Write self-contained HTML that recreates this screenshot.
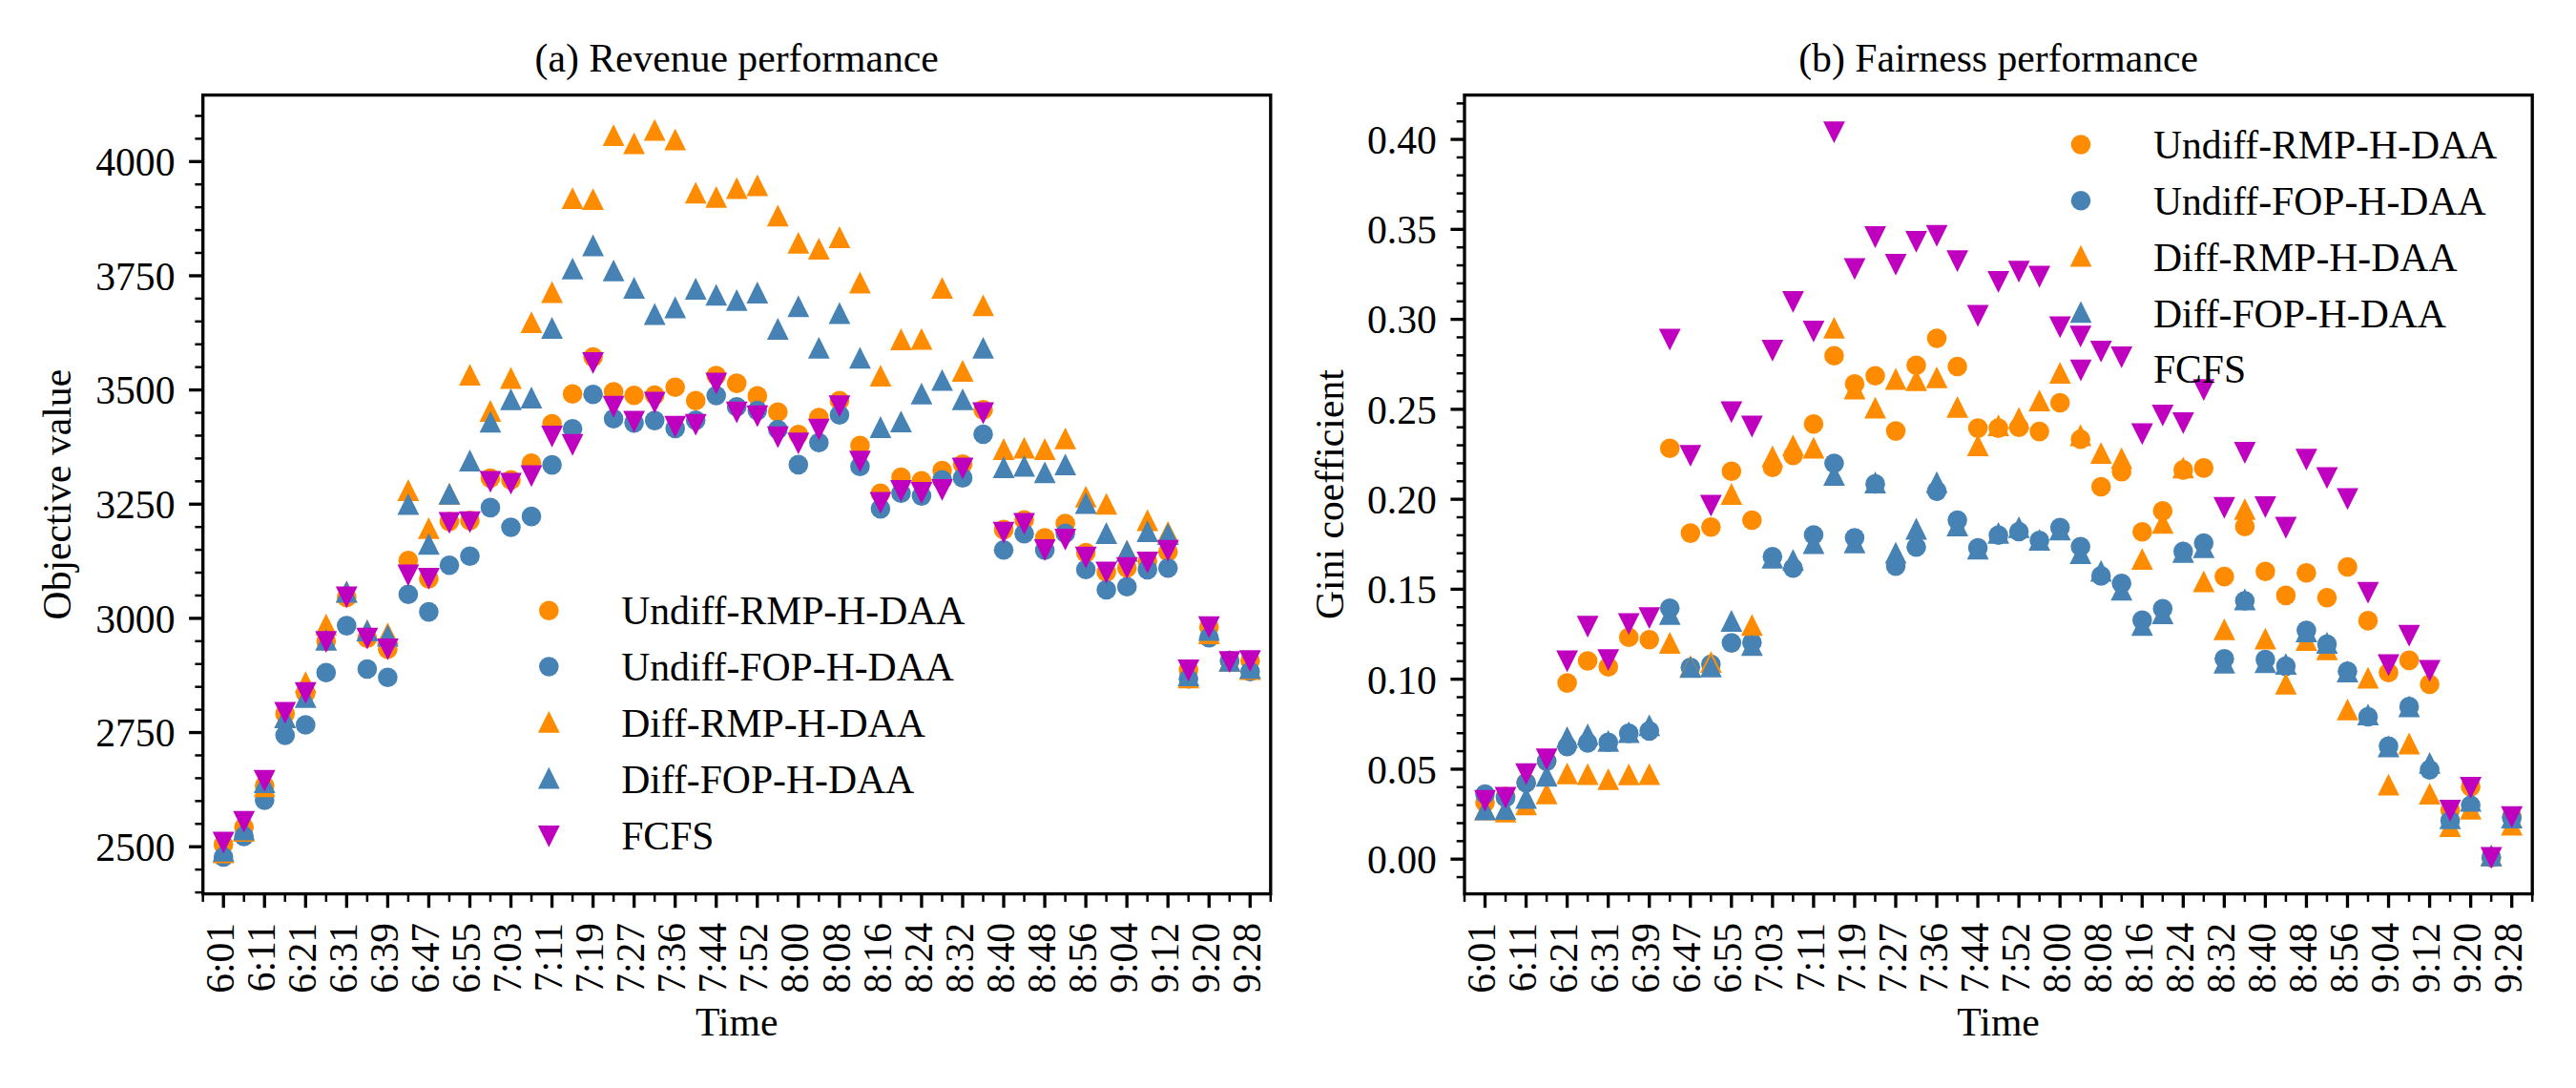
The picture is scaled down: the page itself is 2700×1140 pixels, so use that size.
<!DOCTYPE html>
<html><head><meta charset="utf-8"><title>Revenue and fairness performance</title>
<style>
html,body{margin:0;padding:0;background:#fff;}
svg{display:block}
text{font-family:"Liberation Serif","Times New Roman",serif;font-size:41.67px;fill:#000}
</style></head>
<body>
<svg width="2700" height="1140" viewBox="0 0 2700 1140">
<rect width="2700" height="1140" fill="#fff"/>
<g><circle cx="234.2" cy="884.9" r="10.3" fill="#ff8c00"/><circle cx="255.7" cy="866.8" r="10.3" fill="#ff8c00"/><circle cx="277.3" cy="823.2" r="10.3" fill="#ff8c00"/><circle cx="298.8" cy="747.9" r="10.3" fill="#ff8c00"/><circle cx="320.3" cy="726.5" r="10.3" fill="#ff8c00"/><circle cx="341.8" cy="672.0" r="10.3" fill="#ff8c00"/><circle cx="363.3" cy="625.9" r="10.3" fill="#ff8c00"/><circle cx="384.9" cy="668.8" r="10.3" fill="#ff8c00"/><circle cx="406.4" cy="680.3" r="10.3" fill="#ff8c00"/><circle cx="427.9" cy="587.3" r="10.3" fill="#ff8c00"/><circle cx="449.4" cy="606.4" r="10.3" fill="#ff8c00"/><circle cx="471.0" cy="546.5" r="10.3" fill="#ff8c00"/><circle cx="492.5" cy="545.4" r="10.3" fill="#ff8c00"/><circle cx="514.0" cy="501.0" r="10.3" fill="#ff8c00"/><circle cx="535.5" cy="502.9" r="10.3" fill="#ff8c00"/><circle cx="557.0" cy="485.3" r="10.3" fill="#ff8c00"/><circle cx="578.6" cy="444.1" r="10.3" fill="#ff8c00"/><circle cx="600.1" cy="412.7" r="10.3" fill="#ff8c00"/><circle cx="621.6" cy="374.1" r="10.3" fill="#ff8c00"/><circle cx="643.1" cy="410.5" r="10.3" fill="#ff8c00"/><circle cx="664.6" cy="414.2" r="10.3" fill="#ff8c00"/><circle cx="686.2" cy="414.0" r="10.3" fill="#ff8c00"/><circle cx="707.7" cy="405.8" r="10.3" fill="#ff8c00"/><circle cx="729.2" cy="419.8" r="10.3" fill="#ff8c00"/><circle cx="750.7" cy="393.5" r="10.3" fill="#ff8c00"/><circle cx="772.2" cy="401.6" r="10.3" fill="#ff8c00"/><circle cx="793.8" cy="414.9" r="10.3" fill="#ff8c00"/><circle cx="815.3" cy="431.7" r="10.3" fill="#ff8c00"/><circle cx="836.8" cy="455.2" r="10.3" fill="#ff8c00"/><circle cx="858.3" cy="437.5" r="10.3" fill="#ff8c00"/><circle cx="879.9" cy="419.7" r="10.3" fill="#ff8c00"/><circle cx="901.4" cy="466.8" r="10.3" fill="#ff8c00"/><circle cx="922.9" cy="516.7" r="10.3" fill="#ff8c00"/><circle cx="944.4" cy="500.0" r="10.3" fill="#ff8c00"/><circle cx="965.9" cy="503.8" r="10.3" fill="#ff8c00"/><circle cx="987.5" cy="493.0" r="10.3" fill="#ff8c00"/><circle cx="1009.0" cy="486.4" r="10.3" fill="#ff8c00"/><circle cx="1030.5" cy="429.4" r="10.3" fill="#ff8c00"/><circle cx="1052.0" cy="554.9" r="10.3" fill="#ff8c00"/><circle cx="1073.5" cy="544.7" r="10.3" fill="#ff8c00"/><circle cx="1095.1" cy="563.6" r="10.3" fill="#ff8c00"/><circle cx="1116.6" cy="548.5" r="10.3" fill="#ff8c00"/><circle cx="1138.1" cy="579.1" r="10.3" fill="#ff8c00"/><circle cx="1159.6" cy="599.5" r="10.3" fill="#ff8c00"/><circle cx="1181.2" cy="595.0" r="10.3" fill="#ff8c00"/><circle cx="1202.7" cy="588.0" r="10.3" fill="#ff8c00"/><circle cx="1224.2" cy="578.3" r="10.3" fill="#ff8c00"/><circle cx="1245.7" cy="701.7" r="10.3" fill="#ff8c00"/><circle cx="1267.2" cy="657.0" r="10.3" fill="#ff8c00"/><circle cx="1288.8" cy="692.4" r="10.3" fill="#ff8c00"/><circle cx="1310.3" cy="692.4" r="10.3" fill="#ff8c00"/></g>
<g><circle cx="234.2" cy="898.0" r="10.3" fill="#4682b4"/><circle cx="255.7" cy="876.4" r="10.3" fill="#4682b4"/><circle cx="277.3" cy="838.4" r="10.3" fill="#4682b4"/><circle cx="298.8" cy="770.5" r="10.3" fill="#4682b4"/><circle cx="320.3" cy="759.5" r="10.3" fill="#4682b4"/><circle cx="341.8" cy="704.8" r="10.3" fill="#4682b4"/><circle cx="363.3" cy="655.6" r="10.3" fill="#4682b4"/><circle cx="384.9" cy="701.0" r="10.3" fill="#4682b4"/><circle cx="406.4" cy="709.7" r="10.3" fill="#4682b4"/><circle cx="427.9" cy="622.8" r="10.3" fill="#4682b4"/><circle cx="449.4" cy="641.1" r="10.3" fill="#4682b4"/><circle cx="471.0" cy="592.3" r="10.3" fill="#4682b4"/><circle cx="492.5" cy="582.8" r="10.3" fill="#4682b4"/><circle cx="514.0" cy="531.9" r="10.3" fill="#4682b4"/><circle cx="535.5" cy="552.5" r="10.3" fill="#4682b4"/><circle cx="557.0" cy="541.1" r="10.3" fill="#4682b4"/><circle cx="578.6" cy="487.1" r="10.3" fill="#4682b4"/><circle cx="600.1" cy="449.3" r="10.3" fill="#4682b4"/><circle cx="621.6" cy="413.2" r="10.3" fill="#4682b4"/><circle cx="643.1" cy="438.8" r="10.3" fill="#4682b4"/><circle cx="664.6" cy="443.1" r="10.3" fill="#4682b4"/><circle cx="686.2" cy="440.6" r="10.3" fill="#4682b4"/><circle cx="707.7" cy="448.9" r="10.3" fill="#4682b4"/><circle cx="729.2" cy="440.4" r="10.3" fill="#4682b4"/><circle cx="750.7" cy="414.5" r="10.3" fill="#4682b4"/><circle cx="772.2" cy="426.3" r="10.3" fill="#4682b4"/><circle cx="793.8" cy="430.1" r="10.3" fill="#4682b4"/><circle cx="815.3" cy="450.0" r="10.3" fill="#4682b4"/><circle cx="836.8" cy="486.9" r="10.3" fill="#4682b4"/><circle cx="858.3" cy="463.7" r="10.3" fill="#4682b4"/><circle cx="879.9" cy="434.8" r="10.3" fill="#4682b4"/><circle cx="901.4" cy="488.8" r="10.3" fill="#4682b4"/><circle cx="922.9" cy="533.1" r="10.3" fill="#4682b4"/><circle cx="944.4" cy="516.7" r="10.3" fill="#4682b4"/><circle cx="965.9" cy="519.6" r="10.3" fill="#4682b4"/><circle cx="987.5" cy="502.8" r="10.3" fill="#4682b4"/><circle cx="1009.0" cy="500.7" r="10.3" fill="#4682b4"/><circle cx="1030.5" cy="455.0" r="10.3" fill="#4682b4"/><circle cx="1052.0" cy="576.3" r="10.3" fill="#4682b4"/><circle cx="1073.5" cy="559.2" r="10.3" fill="#4682b4"/><circle cx="1095.1" cy="576.5" r="10.3" fill="#4682b4"/><circle cx="1116.6" cy="558.8" r="10.3" fill="#4682b4"/><circle cx="1138.1" cy="596.7" r="10.3" fill="#4682b4"/><circle cx="1159.6" cy="618.0" r="10.3" fill="#4682b4"/><circle cx="1181.2" cy="614.8" r="10.3" fill="#4682b4"/><circle cx="1202.7" cy="596.9" r="10.3" fill="#4682b4"/><circle cx="1224.2" cy="595.2" r="10.3" fill="#4682b4"/><circle cx="1245.7" cy="711.2" r="10.3" fill="#4682b4"/><circle cx="1267.2" cy="668.3" r="10.3" fill="#4682b4"/><circle cx="1288.8" cy="692.4" r="10.3" fill="#4682b4"/><circle cx="1310.3" cy="703.8" r="10.3" fill="#4682b4"/></g>
<g><polygon points="234.2,881.6 222.8,904.4 245.6,904.4" fill="#ff8c00"/><polygon points="255.7,859.2 244.3,882.0 267.1,882.0" fill="#ff8c00"/><polygon points="277.3,812.4 265.9,835.2 288.7,835.2" fill="#ff8c00"/><polygon points="298.8,740.3 287.4,763.1 310.2,763.1" fill="#ff8c00"/><polygon points="320.3,703.3 308.9,726.1 331.7,726.1" fill="#ff8c00"/><polygon points="341.8,643.0 330.4,665.8 353.2,665.8" fill="#ff8c00"/><polygon points="363.3,608.6 351.9,631.4 374.7,631.4" fill="#ff8c00"/><polygon points="384.9,648.9 373.5,671.7 396.3,671.7" fill="#ff8c00"/><polygon points="406.4,652.3 395.0,675.1 417.8,675.1" fill="#ff8c00"/><polygon points="427.9,502.1 416.5,524.9 439.3,524.9" fill="#ff8c00"/><polygon points="449.4,541.9 438.0,564.7 460.8,564.7" fill="#ff8c00"/><polygon points="471.0,506.0 459.6,528.8 482.4,528.8" fill="#ff8c00"/><polygon points="492.5,381.3 481.1,404.1 503.9,404.1" fill="#ff8c00"/><polygon points="514.0,419.1 502.6,441.9 525.4,441.9" fill="#ff8c00"/><polygon points="535.5,384.6 524.1,407.4 546.9,407.4" fill="#ff8c00"/><polygon points="557.0,326.2 545.6,349.0 568.4,349.0" fill="#ff8c00"/><polygon points="578.6,294.6 567.2,317.4 590.0,317.4" fill="#ff8c00"/><polygon points="600.1,196.2 588.7,219.0 611.5,219.0" fill="#ff8c00"/><polygon points="621.6,197.2 610.2,220.0 633.0,220.0" fill="#ff8c00"/><polygon points="643.1,130.2 631.7,153.0 654.5,153.0" fill="#ff8c00"/><polygon points="664.6,138.7 653.2,161.5 676.0,161.5" fill="#ff8c00"/><polygon points="686.2,124.8 674.8,147.6 697.6,147.6" fill="#ff8c00"/><polygon points="707.7,134.7 696.3,157.5 719.1,157.5" fill="#ff8c00"/><polygon points="729.2,190.4 717.8,213.2 740.6,213.2" fill="#ff8c00"/><polygon points="750.7,195.0 739.3,217.8 762.1,217.8" fill="#ff8c00"/><polygon points="772.2,185.7 760.9,208.5 783.6,208.5" fill="#ff8c00"/><polygon points="793.8,182.8 782.4,205.6 805.2,205.6" fill="#ff8c00"/><polygon points="815.3,214.4 803.9,237.2 826.7,237.2" fill="#ff8c00"/><polygon points="836.8,243.0 825.4,265.8 848.2,265.8" fill="#ff8c00"/><polygon points="858.3,249.2 846.9,272.0 869.7,272.0" fill="#ff8c00"/><polygon points="879.9,237.1 868.5,259.9 891.3,259.9" fill="#ff8c00"/><polygon points="901.4,284.6 890.0,307.4 912.8,307.4" fill="#ff8c00"/><polygon points="922.9,382.3 911.5,405.1 934.3,405.1" fill="#ff8c00"/><polygon points="944.4,344.1 933.0,366.9 955.8,366.9" fill="#ff8c00"/><polygon points="965.9,343.8 954.5,366.6 977.3,366.6" fill="#ff8c00"/><polygon points="987.5,290.2 976.1,313.0 998.9,313.0" fill="#ff8c00"/><polygon points="1009.0,377.1 997.6,399.9 1020.4,399.9" fill="#ff8c00"/><polygon points="1030.5,308.5 1019.1,331.3 1041.9,331.3" fill="#ff8c00"/><polygon points="1052.0,459.1 1040.6,481.9 1063.4,481.9" fill="#ff8c00"/><polygon points="1073.5,457.7 1062.1,480.5 1084.9,480.5" fill="#ff8c00"/><polygon points="1095.1,459.1 1083.7,481.9 1106.5,481.9" fill="#ff8c00"/><polygon points="1116.6,447.9 1105.2,470.7 1128.0,470.7" fill="#ff8c00"/><polygon points="1138.1,509.0 1126.7,531.8 1149.5,531.8" fill="#ff8c00"/><polygon points="1159.6,516.4 1148.2,539.2 1171.0,539.2" fill="#ff8c00"/><polygon points="1181.2,565.8 1169.8,588.6 1192.6,588.6" fill="#ff8c00"/><polygon points="1202.7,533.6 1191.3,556.4 1214.1,556.4" fill="#ff8c00"/><polygon points="1224.2,546.0 1212.8,568.8 1235.6,568.8" fill="#ff8c00"/><polygon points="1245.7,698.5 1234.3,721.3 1257.1,721.3" fill="#ff8c00"/><polygon points="1267.2,652.1 1255.8,674.9 1278.6,674.9" fill="#ff8c00"/><polygon points="1288.8,680.9 1277.4,703.7 1300.2,703.7" fill="#ff8c00"/><polygon points="1310.3,689.8 1298.9,712.6 1321.7,712.6" fill="#ff8c00"/></g>
<g><polygon points="234.2,879.9 222.8,902.7 245.6,902.7" fill="#4682b4"/><polygon points="255.7,857.6 244.3,880.4 267.1,880.4" fill="#4682b4"/><polygon points="277.3,808.2 265.9,831.0 288.7,831.0" fill="#4682b4"/><polygon points="298.8,740.3 287.4,763.1 310.2,763.1" fill="#4682b4"/><polygon points="320.3,719.0 308.9,741.8 331.7,741.8" fill="#4682b4"/><polygon points="341.8,658.9 330.4,681.7 353.2,681.7" fill="#4682b4"/><polygon points="363.3,608.6 351.9,631.4 374.7,631.4" fill="#4682b4"/><polygon points="384.9,649.2 373.5,672.0 396.3,672.0" fill="#4682b4"/><polygon points="406.4,654.6 395.0,677.4 417.8,677.4" fill="#4682b4"/><polygon points="427.9,516.8 416.5,539.6 439.3,539.6" fill="#4682b4"/><polygon points="449.4,558.5 438.0,581.3 460.8,581.3" fill="#4682b4"/><polygon points="471.0,506.0 459.6,528.8 482.4,528.8" fill="#4682b4"/><polygon points="492.5,471.1 481.1,493.9 503.9,493.9" fill="#4682b4"/><polygon points="514.0,430.5 502.6,453.3 525.4,453.3" fill="#4682b4"/><polygon points="535.5,407.0 524.1,429.8 546.9,429.8" fill="#4682b4"/><polygon points="557.0,405.1 545.6,427.9 568.4,427.9" fill="#4682b4"/><polygon points="578.6,332.1 567.2,354.9 590.0,354.9" fill="#4682b4"/><polygon points="600.1,269.9 588.7,292.7 611.5,292.7" fill="#4682b4"/><polygon points="621.6,245.6 610.2,268.4 633.0,268.4" fill="#4682b4"/><polygon points="643.1,271.9 631.7,294.7 654.5,294.7" fill="#4682b4"/><polygon points="664.6,290.1 653.2,312.9 676.0,312.9" fill="#4682b4"/><polygon points="686.2,317.6 674.8,340.4 697.6,340.4" fill="#4682b4"/><polygon points="707.7,310.6 696.3,333.4 719.1,333.4" fill="#4682b4"/><polygon points="729.2,291.1 717.8,313.9 740.6,313.9" fill="#4682b4"/><polygon points="750.7,297.5 739.3,320.3 762.1,320.3" fill="#4682b4"/><polygon points="772.2,302.9 760.9,325.7 783.6,325.7" fill="#4682b4"/><polygon points="793.8,295.1 782.4,317.9 805.2,317.9" fill="#4682b4"/><polygon points="815.3,333.1 803.9,355.9 826.7,355.9" fill="#4682b4"/><polygon points="836.8,309.5 825.4,332.3 848.2,332.3" fill="#4682b4"/><polygon points="858.3,353.0 846.9,375.8 869.7,375.8" fill="#4682b4"/><polygon points="879.9,316.6 868.5,339.4 891.3,339.4" fill="#4682b4"/><polygon points="901.4,363.4 890.0,386.2 912.8,386.2" fill="#4682b4"/><polygon points="922.9,436.1 911.5,458.9 934.3,458.9" fill="#4682b4"/><polygon points="944.4,430.3 933.0,453.1 955.8,453.1" fill="#4682b4"/><polygon points="965.9,400.9 954.5,423.7 977.3,423.7" fill="#4682b4"/><polygon points="987.5,386.7 976.1,409.5 998.9,409.5" fill="#4682b4"/><polygon points="1009.0,407.0 997.6,429.8 1020.4,429.8" fill="#4682b4"/><polygon points="1030.5,352.9 1019.1,375.7 1041.9,375.7" fill="#4682b4"/><polygon points="1052.0,478.1 1040.6,500.9 1063.4,500.9" fill="#4682b4"/><polygon points="1073.5,476.8 1062.1,499.6 1084.9,499.6" fill="#4682b4"/><polygon points="1095.1,483.4 1083.7,506.2 1106.5,506.2" fill="#4682b4"/><polygon points="1116.6,475.2 1105.2,498.0 1128.0,498.0" fill="#4682b4"/><polygon points="1138.1,515.8 1126.7,538.6 1149.5,538.6" fill="#4682b4"/><polygon points="1159.6,547.1 1148.2,569.9 1171.0,569.9" fill="#4682b4"/><polygon points="1181.2,565.8 1169.8,588.6 1192.6,588.6" fill="#4682b4"/><polygon points="1202.7,545.2 1191.3,568.0 1214.1,568.0" fill="#4682b4"/><polygon points="1224.2,548.1 1212.8,570.9 1235.6,570.9" fill="#4682b4"/><polygon points="1245.7,696.2 1234.3,719.0 1257.1,719.0" fill="#4682b4"/><polygon points="1267.2,648.8 1255.8,671.6 1278.6,671.6" fill="#4682b4"/><polygon points="1288.8,680.9 1277.4,703.7 1300.2,703.7" fill="#4682b4"/><polygon points="1310.3,688.4 1298.9,711.2 1321.7,711.2" fill="#4682b4"/></g>
<g><polygon points="234.2,894.2 222.8,871.4 245.6,871.4" fill="#bf00bf"/><polygon points="255.7,872.6 244.3,849.8 267.1,849.8" fill="#bf00bf"/><polygon points="277.3,829.5 265.9,806.7 288.7,806.7" fill="#bf00bf"/><polygon points="298.8,758.3 287.4,735.5 310.2,735.5" fill="#bf00bf"/><polygon points="320.3,737.5 308.9,714.7 331.7,714.7" fill="#bf00bf"/><polygon points="341.8,684.0 330.4,661.2 353.2,661.2" fill="#bf00bf"/><polygon points="363.3,637.3 351.9,614.5 374.7,614.5" fill="#bf00bf"/><polygon points="384.9,680.5 373.5,657.7 396.3,657.7" fill="#bf00bf"/><polygon points="406.4,691.7 395.0,668.9 417.8,668.9" fill="#bf00bf"/><polygon points="427.9,614.2 416.5,591.4 439.3,591.4" fill="#bf00bf"/><polygon points="449.4,617.7 438.0,594.9 460.8,594.9" fill="#bf00bf"/><polygon points="471.0,559.3 459.6,536.5 482.4,536.5" fill="#bf00bf"/><polygon points="492.5,558.5 481.1,535.7 503.9,535.7" fill="#bf00bf"/><polygon points="514.0,516.2 502.6,493.4 525.4,493.4" fill="#bf00bf"/><polygon points="535.5,518.2 524.1,495.4 546.9,495.4" fill="#bf00bf"/><polygon points="557.0,510.3 545.6,487.5 568.4,487.5" fill="#bf00bf"/><polygon points="578.6,468.8 567.2,446.0 590.0,446.0" fill="#bf00bf"/><polygon points="600.1,477.6 588.7,454.8 611.5,454.8" fill="#bf00bf"/><polygon points="621.6,391.7 610.2,368.9 633.0,368.9" fill="#bf00bf"/><polygon points="643.1,437.5 631.7,414.7 654.5,414.7" fill="#bf00bf"/><polygon points="664.6,453.3 653.2,430.5 676.0,430.5" fill="#bf00bf"/><polygon points="686.2,433.2 674.8,410.4 697.6,410.4" fill="#bf00bf"/><polygon points="707.7,458.5 696.3,435.7 719.1,435.7" fill="#bf00bf"/><polygon points="729.2,456.6 717.8,433.8 740.6,433.8" fill="#bf00bf"/><polygon points="750.7,413.2 739.3,390.4 762.1,390.4" fill="#bf00bf"/><polygon points="772.2,443.6 760.9,420.8 783.6,420.8" fill="#bf00bf"/><polygon points="793.8,447.6 782.4,424.8 805.2,424.8" fill="#bf00bf"/><polygon points="815.3,469.6 803.9,446.8 826.7,446.8" fill="#bf00bf"/><polygon points="836.8,476.1 825.4,453.3 848.2,453.3" fill="#bf00bf"/><polygon points="858.3,461.6 846.9,438.8 869.7,438.8" fill="#bf00bf"/><polygon points="879.9,437.0 868.5,414.2 891.3,414.2" fill="#bf00bf"/><polygon points="901.4,495.1 890.0,472.3 912.8,472.3" fill="#bf00bf"/><polygon points="922.9,538.2 911.5,515.4 934.3,515.4" fill="#bf00bf"/><polygon points="944.4,525.8 933.0,503.0 955.8,503.0" fill="#bf00bf"/><polygon points="965.9,527.9 954.5,505.1 977.3,505.1" fill="#bf00bf"/><polygon points="987.5,524.8 976.1,502.0 998.9,502.0" fill="#bf00bf"/><polygon points="1009.0,502.2 997.6,479.4 1020.4,479.4" fill="#bf00bf"/><polygon points="1030.5,444.4 1019.1,421.6 1041.9,421.6" fill="#bf00bf"/><polygon points="1052.0,569.6 1040.6,546.8 1063.4,546.8" fill="#bf00bf"/><polygon points="1073.5,560.2 1062.1,537.4 1084.9,537.4" fill="#bf00bf"/><polygon points="1095.1,587.7 1083.7,564.9 1106.5,564.9" fill="#bf00bf"/><polygon points="1116.6,576.8 1105.2,554.0 1128.0,554.0" fill="#bf00bf"/><polygon points="1138.1,595.6 1126.7,572.8 1149.5,572.8" fill="#bf00bf"/><polygon points="1159.6,611.4 1148.2,588.6 1171.0,588.6" fill="#bf00bf"/><polygon points="1181.2,606.5 1169.8,583.7 1192.6,583.7" fill="#bf00bf"/><polygon points="1202.7,600.8 1191.3,578.0 1214.1,578.0" fill="#bf00bf"/><polygon points="1224.2,588.5 1212.8,565.7 1235.6,565.7" fill="#bf00bf"/><polygon points="1245.7,713.9 1234.3,691.1 1257.1,691.1" fill="#bf00bf"/><polygon points="1267.2,668.5 1255.8,645.7 1278.6,645.7" fill="#bf00bf"/><polygon points="1288.8,705.0 1277.4,682.2 1300.2,682.2" fill="#bf00bf"/><polygon points="1310.3,704.0 1298.9,681.2 1321.7,681.2" fill="#bf00bf"/></g>
<g stroke="#000"><line x1="212.70" y1="936.6" x2="212.70" y2="944.9" stroke-width="2.5"/><line x1="234.22" y1="936.6" x2="234.22" y2="951.2" stroke-width="3.33"/><line x1="255.74" y1="936.6" x2="255.74" y2="944.9" stroke-width="2.5"/><line x1="277.26" y1="936.6" x2="277.26" y2="951.2" stroke-width="3.33"/><line x1="298.78" y1="936.6" x2="298.78" y2="944.9" stroke-width="2.5"/><line x1="320.31" y1="936.6" x2="320.31" y2="951.2" stroke-width="3.33"/><line x1="341.83" y1="936.6" x2="341.83" y2="944.9" stroke-width="2.5"/><line x1="363.35" y1="936.6" x2="363.35" y2="951.2" stroke-width="3.33"/><line x1="384.87" y1="936.6" x2="384.87" y2="944.9" stroke-width="2.5"/><line x1="406.39" y1="936.6" x2="406.39" y2="951.2" stroke-width="3.33"/><line x1="427.91" y1="936.6" x2="427.91" y2="944.9" stroke-width="2.5"/><line x1="449.43" y1="936.6" x2="449.43" y2="951.2" stroke-width="3.33"/><line x1="470.95" y1="936.6" x2="470.95" y2="944.9" stroke-width="2.5"/><line x1="492.47" y1="936.6" x2="492.47" y2="951.2" stroke-width="3.33"/><line x1="514.00" y1="936.6" x2="514.00" y2="944.9" stroke-width="2.5"/><line x1="535.52" y1="936.6" x2="535.52" y2="951.2" stroke-width="3.33"/><line x1="557.04" y1="936.6" x2="557.04" y2="944.9" stroke-width="2.5"/><line x1="578.56" y1="936.6" x2="578.56" y2="951.2" stroke-width="3.33"/><line x1="600.08" y1="936.6" x2="600.08" y2="944.9" stroke-width="2.5"/><line x1="621.60" y1="936.6" x2="621.60" y2="951.2" stroke-width="3.33"/><line x1="643.12" y1="936.6" x2="643.12" y2="944.9" stroke-width="2.5"/><line x1="664.64" y1="936.6" x2="664.64" y2="951.2" stroke-width="3.33"/><line x1="686.17" y1="936.6" x2="686.17" y2="944.9" stroke-width="2.5"/><line x1="707.69" y1="936.6" x2="707.69" y2="951.2" stroke-width="3.33"/><line x1="729.21" y1="936.6" x2="729.21" y2="944.9" stroke-width="2.5"/><line x1="750.73" y1="936.6" x2="750.73" y2="951.2" stroke-width="3.33"/><line x1="772.25" y1="936.6" x2="772.25" y2="944.9" stroke-width="2.5"/><line x1="793.77" y1="936.6" x2="793.77" y2="951.2" stroke-width="3.33"/><line x1="815.29" y1="936.6" x2="815.29" y2="944.9" stroke-width="2.5"/><line x1="836.81" y1="936.6" x2="836.81" y2="951.2" stroke-width="3.33"/><line x1="858.33" y1="936.6" x2="858.33" y2="944.9" stroke-width="2.5"/><line x1="879.86" y1="936.6" x2="879.86" y2="951.2" stroke-width="3.33"/><line x1="901.38" y1="936.6" x2="901.38" y2="944.9" stroke-width="2.5"/><line x1="922.90" y1="936.6" x2="922.90" y2="951.2" stroke-width="3.33"/><line x1="944.42" y1="936.6" x2="944.42" y2="944.9" stroke-width="2.5"/><line x1="965.94" y1="936.6" x2="965.94" y2="951.2" stroke-width="3.33"/><line x1="987.46" y1="936.6" x2="987.46" y2="944.9" stroke-width="2.5"/><line x1="1008.98" y1="936.6" x2="1008.98" y2="951.2" stroke-width="3.33"/><line x1="1030.50" y1="936.6" x2="1030.50" y2="944.9" stroke-width="2.5"/><line x1="1052.02" y1="936.6" x2="1052.02" y2="951.2" stroke-width="3.33"/><line x1="1073.55" y1="936.6" x2="1073.55" y2="944.9" stroke-width="2.5"/><line x1="1095.07" y1="936.6" x2="1095.07" y2="951.2" stroke-width="3.33"/><line x1="1116.59" y1="936.6" x2="1116.59" y2="944.9" stroke-width="2.5"/><line x1="1138.11" y1="936.6" x2="1138.11" y2="951.2" stroke-width="3.33"/><line x1="1159.63" y1="936.6" x2="1159.63" y2="944.9" stroke-width="2.5"/><line x1="1181.15" y1="936.6" x2="1181.15" y2="951.2" stroke-width="3.33"/><line x1="1202.67" y1="936.6" x2="1202.67" y2="944.9" stroke-width="2.5"/><line x1="1224.19" y1="936.6" x2="1224.19" y2="951.2" stroke-width="3.33"/><line x1="1245.72" y1="936.6" x2="1245.72" y2="944.9" stroke-width="2.5"/><line x1="1267.24" y1="936.6" x2="1267.24" y2="951.2" stroke-width="3.33"/><line x1="1288.76" y1="936.6" x2="1288.76" y2="944.9" stroke-width="2.5"/><line x1="1310.28" y1="936.6" x2="1310.28" y2="951.2" stroke-width="3.33"/><line x1="1331.80" y1="936.6" x2="1331.80" y2="944.9" stroke-width="2.5"/><line x1="212.7" y1="887.20" x2="198.1" y2="887.20" stroke-width="3.33"/><line x1="212.7" y1="767.55" x2="198.1" y2="767.55" stroke-width="3.33"/><line x1="212.7" y1="647.90" x2="198.1" y2="647.90" stroke-width="3.33"/><line x1="212.7" y1="528.25" x2="198.1" y2="528.25" stroke-width="3.33"/><line x1="212.7" y1="408.60" x2="198.1" y2="408.60" stroke-width="3.33"/><line x1="212.7" y1="288.95" x2="198.1" y2="288.95" stroke-width="3.33"/><line x1="212.7" y1="169.30" x2="198.1" y2="169.30" stroke-width="3.33"/><line x1="212.7" y1="935.06" x2="204.4" y2="935.06" stroke-width="2.5"/><line x1="212.7" y1="911.13" x2="204.4" y2="911.13" stroke-width="2.5"/><line x1="212.7" y1="863.27" x2="204.4" y2="863.27" stroke-width="2.5"/><line x1="212.7" y1="839.34" x2="204.4" y2="839.34" stroke-width="2.5"/><line x1="212.7" y1="815.41" x2="204.4" y2="815.41" stroke-width="2.5"/><line x1="212.7" y1="791.48" x2="204.4" y2="791.48" stroke-width="2.5"/><line x1="212.7" y1="743.62" x2="204.4" y2="743.62" stroke-width="2.5"/><line x1="212.7" y1="719.69" x2="204.4" y2="719.69" stroke-width="2.5"/><line x1="212.7" y1="695.76" x2="204.4" y2="695.76" stroke-width="2.5"/><line x1="212.7" y1="671.83" x2="204.4" y2="671.83" stroke-width="2.5"/><line x1="212.7" y1="623.97" x2="204.4" y2="623.97" stroke-width="2.5"/><line x1="212.7" y1="600.04" x2="204.4" y2="600.04" stroke-width="2.5"/><line x1="212.7" y1="576.11" x2="204.4" y2="576.11" stroke-width="2.5"/><line x1="212.7" y1="552.18" x2="204.4" y2="552.18" stroke-width="2.5"/><line x1="212.7" y1="504.32" x2="204.4" y2="504.32" stroke-width="2.5"/><line x1="212.7" y1="480.39" x2="204.4" y2="480.39" stroke-width="2.5"/><line x1="212.7" y1="456.46" x2="204.4" y2="456.46" stroke-width="2.5"/><line x1="212.7" y1="432.53" x2="204.4" y2="432.53" stroke-width="2.5"/><line x1="212.7" y1="384.67" x2="204.4" y2="384.67" stroke-width="2.5"/><line x1="212.7" y1="360.74" x2="204.4" y2="360.74" stroke-width="2.5"/><line x1="212.7" y1="336.81" x2="204.4" y2="336.81" stroke-width="2.5"/><line x1="212.7" y1="312.88" x2="204.4" y2="312.88" stroke-width="2.5"/><line x1="212.7" y1="265.02" x2="204.4" y2="265.02" stroke-width="2.5"/><line x1="212.7" y1="241.09" x2="204.4" y2="241.09" stroke-width="2.5"/><line x1="212.7" y1="217.16" x2="204.4" y2="217.16" stroke-width="2.5"/><line x1="212.7" y1="193.23" x2="204.4" y2="193.23" stroke-width="2.5"/><line x1="212.7" y1="145.37" x2="204.4" y2="145.37" stroke-width="2.5"/><line x1="212.7" y1="121.44" x2="204.4" y2="121.44" stroke-width="2.5"/></g>
<rect x="212.7" y="99.6" width="1119.1" height="837.0" fill="none" stroke="#000" stroke-width="3.33" stroke-linejoin="miter"/>
<text x="183.5" y="902.0" text-anchor="end">2500</text>
<text x="183.5" y="782.4" text-anchor="end">2750</text>
<text x="183.5" y="662.7" text-anchor="end">3000</text>
<text x="183.5" y="543.0" text-anchor="end">3250</text>
<text x="183.5" y="423.4" text-anchor="end">3500</text>
<text x="183.5" y="303.8" text-anchor="end">3750</text>
<text x="183.5" y="184.1" text-anchor="end">4000</text>
<text transform="translate(244.8,966.8) rotate(-90)" text-anchor="end">6:01</text>
<text transform="translate(287.9,966.8) rotate(-90)" text-anchor="end">6:11</text>
<text transform="translate(330.9,966.8) rotate(-90)" text-anchor="end">6:21</text>
<text transform="translate(373.9,966.8) rotate(-90)" text-anchor="end">6:31</text>
<text transform="translate(417.0,966.8) rotate(-90)" text-anchor="end">6:39</text>
<text transform="translate(460.0,966.8) rotate(-90)" text-anchor="end">6:47</text>
<text transform="translate(503.1,966.8) rotate(-90)" text-anchor="end">6:55</text>
<text transform="translate(546.1,966.8) rotate(-90)" text-anchor="end">7:03</text>
<text transform="translate(589.2,966.8) rotate(-90)" text-anchor="end">7:11</text>
<text transform="translate(632.2,966.8) rotate(-90)" text-anchor="end">7:19</text>
<text transform="translate(675.2,966.8) rotate(-90)" text-anchor="end">7:27</text>
<text transform="translate(718.3,966.8) rotate(-90)" text-anchor="end">7:36</text>
<text transform="translate(761.3,966.8) rotate(-90)" text-anchor="end">7:44</text>
<text transform="translate(804.4,966.8) rotate(-90)" text-anchor="end">7:52</text>
<text transform="translate(847.4,966.8) rotate(-90)" text-anchor="end">8:00</text>
<text transform="translate(890.5,966.8) rotate(-90)" text-anchor="end">8:08</text>
<text transform="translate(933.5,966.8) rotate(-90)" text-anchor="end">8:16</text>
<text transform="translate(976.5,966.8) rotate(-90)" text-anchor="end">8:24</text>
<text transform="translate(1019.6,966.8) rotate(-90)" text-anchor="end">8:32</text>
<text transform="translate(1062.6,966.8) rotate(-90)" text-anchor="end">8:40</text>
<text transform="translate(1105.7,966.8) rotate(-90)" text-anchor="end">8:48</text>
<text transform="translate(1148.7,966.8) rotate(-90)" text-anchor="end">8:56</text>
<text transform="translate(1191.8,966.8) rotate(-90)" text-anchor="end">9:04</text>
<text transform="translate(1234.8,966.8) rotate(-90)" text-anchor="end">9:12</text>
<text transform="translate(1277.8,966.8) rotate(-90)" text-anchor="end">9:20</text>
<text transform="translate(1320.9,966.8) rotate(-90)" text-anchor="end">9:28</text>
<text x="772.2" y="75.2" text-anchor="middle">(a) Revenue performance</text>
<text x="772.2" y="1085.2" text-anchor="middle">Time</text>
<text transform="translate(74.4,518.1) rotate(-90)" text-anchor="middle">Objective value</text>
<circle cx="575.3" cy="639.7" r="10.3" fill="#ff8c00"/>
<text x="651.2" y="654.4">Undiff-RMP-H-DAA</text>
<circle cx="575.3" cy="698.5" r="10.3" fill="#4682b4"/>
<text x="651.2" y="713.2">Undiff-FOP-H-DAA</text>
<polygon points="575.3,744.9 563.9,767.7 586.7,767.7" fill="#ff8c00"/>
<text x="651.2" y="772.0">Diff-RMP-H-DAA</text>
<polygon points="575.3,803.7 563.9,826.5 586.7,826.5" fill="#4682b4"/>
<text x="651.2" y="830.8">Diff-FOP-H-DAA</text>
<polygon points="575.3,887.8 563.9,865.0 586.7,865.0" fill="#bf00bf"/>
<text x="651.2" y="889.6">FCFS</text>
<g><circle cx="1556.5" cy="841.0" r="10.3" fill="#ff8c00"/><circle cx="1578.0" cy="834.6" r="10.3" fill="#ff8c00"/><circle cx="1599.6" cy="820.0" r="10.3" fill="#ff8c00"/><circle cx="1621.1" cy="797.5" r="10.3" fill="#ff8c00"/><circle cx="1642.6" cy="715.6" r="10.3" fill="#ff8c00"/><circle cx="1664.1" cy="692.5" r="10.3" fill="#ff8c00"/><circle cx="1685.7" cy="698.7" r="10.3" fill="#ff8c00"/><circle cx="1707.2" cy="667.8" r="10.3" fill="#ff8c00"/><circle cx="1728.7" cy="670.3" r="10.3" fill="#ff8c00"/><circle cx="1750.2" cy="469.7" r="10.3" fill="#ff8c00"/><circle cx="1771.8" cy="558.6" r="10.3" fill="#ff8c00"/><circle cx="1793.3" cy="552.3" r="10.3" fill="#ff8c00"/><circle cx="1814.8" cy="493.8" r="10.3" fill="#ff8c00"/><circle cx="1836.3" cy="545.0" r="10.3" fill="#ff8c00"/><circle cx="1857.8" cy="489.8" r="10.3" fill="#ff8c00"/><circle cx="1879.4" cy="477.2" r="10.3" fill="#ff8c00"/><circle cx="1900.9" cy="444.2" r="10.3" fill="#ff8c00"/><circle cx="1922.4" cy="372.8" r="10.3" fill="#ff8c00"/><circle cx="1943.9" cy="402.2" r="10.3" fill="#ff8c00"/><circle cx="1965.5" cy="393.7" r="10.3" fill="#ff8c00"/><circle cx="1987.0" cy="451.6" r="10.3" fill="#ff8c00"/><circle cx="2008.5" cy="382.8" r="10.3" fill="#ff8c00"/><circle cx="2030.0" cy="354.5" r="10.3" fill="#ff8c00"/><circle cx="2051.6" cy="384.0" r="10.3" fill="#ff8c00"/><circle cx="2073.1" cy="448.6" r="10.3" fill="#ff8c00"/><circle cx="2094.6" cy="448.6" r="10.3" fill="#ff8c00"/><circle cx="2116.1" cy="447.8" r="10.3" fill="#ff8c00"/><circle cx="2137.6" cy="452.1" r="10.3" fill="#ff8c00"/><circle cx="2159.2" cy="422.0" r="10.3" fill="#ff8c00"/><circle cx="2180.7" cy="460.2" r="10.3" fill="#ff8c00"/><circle cx="2202.2" cy="510.0" r="10.3" fill="#ff8c00"/><circle cx="2223.7" cy="494.3" r="10.3" fill="#ff8c00"/><circle cx="2245.3" cy="557.2" r="10.3" fill="#ff8c00"/><circle cx="2266.8" cy="535.4" r="10.3" fill="#ff8c00"/><circle cx="2288.3" cy="492.4" r="10.3" fill="#ff8c00"/><circle cx="2309.8" cy="490.4" r="10.3" fill="#ff8c00"/><circle cx="2331.4" cy="604.1" r="10.3" fill="#ff8c00"/><circle cx="2352.9" cy="551.8" r="10.3" fill="#ff8c00"/><circle cx="2374.4" cy="598.8" r="10.3" fill="#ff8c00"/><circle cx="2395.9" cy="623.9" r="10.3" fill="#ff8c00"/><circle cx="2417.4" cy="600.2" r="10.3" fill="#ff8c00"/><circle cx="2439.0" cy="626.3" r="10.3" fill="#ff8c00"/><circle cx="2460.5" cy="594.0" r="10.3" fill="#ff8c00"/><circle cx="2482.0" cy="650.4" r="10.3" fill="#ff8c00"/><circle cx="2503.5" cy="704.8" r="10.3" fill="#ff8c00"/><circle cx="2525.1" cy="691.9" r="10.3" fill="#ff8c00"/><circle cx="2546.6" cy="717.0" r="10.3" fill="#ff8c00"/><circle cx="2568.1" cy="848.8" r="10.3" fill="#ff8c00"/><circle cx="2589.6" cy="824.4" r="10.3" fill="#ff8c00"/><circle cx="2611.2" cy="898.4" r="10.3" fill="#ff8c00"/><circle cx="2632.7" cy="855.2" r="10.3" fill="#ff8c00"/></g>
<g><circle cx="1556.5" cy="832.1" r="10.3" fill="#4682b4"/><circle cx="1578.0" cy="835.8" r="10.3" fill="#4682b4"/><circle cx="1599.6" cy="820.3" r="10.3" fill="#4682b4"/><circle cx="1621.1" cy="797.6" r="10.3" fill="#4682b4"/><circle cx="1642.6" cy="782.3" r="10.3" fill="#4682b4"/><circle cx="1664.1" cy="778.4" r="10.3" fill="#4682b4"/><circle cx="1685.7" cy="777.7" r="10.3" fill="#4682b4"/><circle cx="1707.2" cy="768.4" r="10.3" fill="#4682b4"/><circle cx="1728.7" cy="765.9" r="10.3" fill="#4682b4"/><circle cx="1750.2" cy="637.3" r="10.3" fill="#4682b4"/><circle cx="1771.8" cy="699.2" r="10.3" fill="#4682b4"/><circle cx="1793.3" cy="696.1" r="10.3" fill="#4682b4"/><circle cx="1814.8" cy="673.6" r="10.3" fill="#4682b4"/><circle cx="1836.3" cy="673.2" r="10.3" fill="#4682b4"/><circle cx="1857.8" cy="583.2" r="10.3" fill="#4682b4"/><circle cx="1879.4" cy="595.2" r="10.3" fill="#4682b4"/><circle cx="1900.9" cy="560.5" r="10.3" fill="#4682b4"/><circle cx="1922.4" cy="485.5" r="10.3" fill="#4682b4"/><circle cx="1943.9" cy="563.5" r="10.3" fill="#4682b4"/><circle cx="1965.5" cy="507.0" r="10.3" fill="#4682b4"/><circle cx="1987.0" cy="593.1" r="10.3" fill="#4682b4"/><circle cx="2008.5" cy="573.3" r="10.3" fill="#4682b4"/><circle cx="2030.0" cy="514.6" r="10.3" fill="#4682b4"/><circle cx="2051.6" cy="545.1" r="10.3" fill="#4682b4"/><circle cx="2073.1" cy="574.0" r="10.3" fill="#4682b4"/><circle cx="2094.6" cy="560.7" r="10.3" fill="#4682b4"/><circle cx="2116.1" cy="557.0" r="10.3" fill="#4682b4"/><circle cx="2137.6" cy="566.3" r="10.3" fill="#4682b4"/><circle cx="2159.2" cy="552.8" r="10.3" fill="#4682b4"/><circle cx="2180.7" cy="572.7" r="10.3" fill="#4682b4"/><circle cx="2202.2" cy="603.4" r="10.3" fill="#4682b4"/><circle cx="2223.7" cy="611.3" r="10.3" fill="#4682b4"/><circle cx="2245.3" cy="649.7" r="10.3" fill="#4682b4"/><circle cx="2266.8" cy="637.7" r="10.3" fill="#4682b4"/><circle cx="2288.3" cy="577.9" r="10.3" fill="#4682b4"/><circle cx="2309.8" cy="569.1" r="10.3" fill="#4682b4"/><circle cx="2331.4" cy="690.2" r="10.3" fill="#4682b4"/><circle cx="2352.9" cy="629.5" r="10.3" fill="#4682b4"/><circle cx="2374.4" cy="691.1" r="10.3" fill="#4682b4"/><circle cx="2395.9" cy="698.1" r="10.3" fill="#4682b4"/><circle cx="2417.4" cy="660.6" r="10.3" fill="#4682b4"/><circle cx="2439.0" cy="675.0" r="10.3" fill="#4682b4"/><circle cx="2460.5" cy="703.3" r="10.3" fill="#4682b4"/><circle cx="2482.0" cy="751.0" r="10.3" fill="#4682b4"/><circle cx="2503.5" cy="781.8" r="10.3" fill="#4682b4"/><circle cx="2525.1" cy="740.4" r="10.3" fill="#4682b4"/><circle cx="2546.6" cy="806.6" r="10.3" fill="#4682b4"/><circle cx="2568.1" cy="859.7" r="10.3" fill="#4682b4"/><circle cx="2589.6" cy="843.7" r="10.3" fill="#4682b4"/><circle cx="2611.2" cy="898.4" r="10.3" fill="#4682b4"/><circle cx="2632.7" cy="857.0" r="10.3" fill="#4682b4"/></g>
<g><polygon points="1556.5,836.7 1545.1,859.5 1567.9,859.5" fill="#ff8c00"/><polygon points="1578.0,839.0 1566.6,861.8 1589.4,861.8" fill="#ff8c00"/><polygon points="1599.6,831.5 1588.2,854.3 1611.0,854.3" fill="#ff8c00"/><polygon points="1621.1,819.9 1609.7,842.7 1632.5,842.7" fill="#ff8c00"/><polygon points="1642.6,799.0 1631.2,821.8 1654.0,821.8" fill="#ff8c00"/><polygon points="1664.1,799.7 1652.7,822.5 1675.5,822.5" fill="#ff8c00"/><polygon points="1685.7,805.0 1674.3,827.8 1697.1,827.8" fill="#ff8c00"/><polygon points="1707.2,800.0 1695.8,822.8 1718.6,822.8" fill="#ff8c00"/><polygon points="1728.7,799.8 1717.3,822.6 1740.1,822.6" fill="#ff8c00"/><polygon points="1750.2,662.1 1738.8,684.9 1761.6,684.9" fill="#ff8c00"/><polygon points="1771.8,686.6 1760.4,709.4 1783.2,709.4" fill="#ff8c00"/><polygon points="1793.3,682.2 1781.9,705.0 1804.7,705.0" fill="#ff8c00"/><polygon points="1814.8,506.1 1803.4,528.9 1826.2,528.9" fill="#ff8c00"/><polygon points="1836.3,643.4 1824.9,666.2 1847.7,666.2" fill="#ff8c00"/><polygon points="1857.8,466.8 1846.4,489.6 1869.2,489.6" fill="#ff8c00"/><polygon points="1879.4,455.2 1868.0,478.0 1890.8,478.0" fill="#ff8c00"/><polygon points="1900.9,457.8 1889.5,480.6 1912.3,480.6" fill="#ff8c00"/><polygon points="1922.4,331.9 1911.0,354.7 1933.8,354.7" fill="#ff8c00"/><polygon points="1943.9,395.6 1932.5,418.4 1955.3,418.4" fill="#ff8c00"/><polygon points="1965.5,415.7 1954.1,438.5 1976.9,438.5" fill="#ff8c00"/><polygon points="1987.0,385.6 1975.6,408.4 1998.4,408.4" fill="#ff8c00"/><polygon points="2008.5,386.9 1997.1,409.7 2019.9,409.7" fill="#ff8c00"/><polygon points="2030.0,384.0 2018.6,406.8 2041.4,406.8" fill="#ff8c00"/><polygon points="2051.6,415.0 2040.2,437.8 2063.0,437.8" fill="#ff8c00"/><polygon points="2073.1,455.2 2061.7,478.0 2084.5,478.0" fill="#ff8c00"/><polygon points="2094.6,434.3 2083.2,457.1 2106.0,457.1" fill="#ff8c00"/><polygon points="2116.1,426.6 2104.7,449.4 2127.5,449.4" fill="#ff8c00"/><polygon points="2137.6,408.2 2126.2,431.0 2149.0,431.0" fill="#ff8c00"/><polygon points="2159.2,379.2 2147.8,402.0 2170.6,402.0" fill="#ff8c00"/><polygon points="2180.7,444.6 2169.3,467.4 2192.1,467.4" fill="#ff8c00"/><polygon points="2202.2,463.3 2190.8,486.1 2213.6,486.1" fill="#ff8c00"/><polygon points="2223.7,468.8 2212.3,491.6 2235.1,491.6" fill="#ff8c00"/><polygon points="2245.3,574.3 2233.9,597.1 2256.7,597.1" fill="#ff8c00"/><polygon points="2266.8,536.4 2255.4,559.2 2278.2,559.2" fill="#ff8c00"/><polygon points="2288.3,478.5 2276.9,501.3 2299.7,501.3" fill="#ff8c00"/><polygon points="2309.8,597.8 2298.4,620.6 2321.2,620.6" fill="#ff8c00"/><polygon points="2331.4,648.0 2320.0,670.8 2342.8,670.8" fill="#ff8c00"/><polygon points="2352.9,521.9 2341.5,544.7 2364.3,544.7" fill="#ff8c00"/><polygon points="2374.4,657.8 2363.0,680.6 2385.8,680.6" fill="#ff8c00"/><polygon points="2395.9,705.0 2384.5,727.8 2407.3,727.8" fill="#ff8c00"/><polygon points="2417.4,659.3 2406.0,682.1 2428.8,682.1" fill="#ff8c00"/><polygon points="2439.0,668.9 2427.6,691.7 2450.4,691.7" fill="#ff8c00"/><polygon points="2460.5,731.9 2449.1,754.7 2471.9,754.7" fill="#ff8c00"/><polygon points="2482.0,698.7 2470.6,721.5 2493.4,721.5" fill="#ff8c00"/><polygon points="2503.5,810.7 2492.1,833.5 2514.9,833.5" fill="#ff8c00"/><polygon points="2525.1,767.6 2513.7,790.4 2536.5,790.4" fill="#ff8c00"/><polygon points="2546.6,820.3 2535.2,843.1 2558.0,843.1" fill="#ff8c00"/><polygon points="2568.1,854.3 2556.7,877.1 2579.5,877.1" fill="#ff8c00"/><polygon points="2589.6,836.0 2578.2,858.8 2601.0,858.8" fill="#ff8c00"/><polygon points="2611.2,884.9 2599.8,907.7 2622.6,907.7" fill="#ff8c00"/><polygon points="2632.7,852.8 2621.3,875.6 2644.1,875.6" fill="#ff8c00"/></g>
<g><polygon points="1556.5,836.7 1545.1,859.5 1567.9,859.5" fill="#4682b4"/><polygon points="1578.0,836.3 1566.6,859.1 1589.4,859.1" fill="#4682b4"/><polygon points="1599.6,824.6 1588.2,847.4 1611.0,847.4" fill="#4682b4"/><polygon points="1621.1,801.4 1609.7,824.2 1632.5,824.2" fill="#4682b4"/><polygon points="1642.6,760.9 1631.2,783.7 1654.0,783.7" fill="#4682b4"/><polygon points="1664.1,758.0 1652.7,780.8 1675.5,780.8" fill="#4682b4"/><polygon points="1685.7,764.9 1674.3,787.7 1697.1,787.7" fill="#4682b4"/><polygon points="1707.2,755.7 1695.8,778.5 1718.6,778.5" fill="#4682b4"/><polygon points="1728.7,748.5 1717.3,771.3 1740.1,771.3" fill="#4682b4"/><polygon points="1750.2,631.9 1738.8,654.7 1761.6,654.7" fill="#4682b4"/><polygon points="1771.8,687.4 1760.4,710.2 1783.2,710.2" fill="#4682b4"/><polygon points="1793.3,686.9 1781.9,709.7 1804.7,709.7" fill="#4682b4"/><polygon points="1814.8,639.1 1803.4,661.9 1826.2,661.9" fill="#4682b4"/><polygon points="1836.3,664.5 1824.9,687.3 1847.7,687.3" fill="#4682b4"/><polygon points="1857.8,573.0 1846.4,595.8 1869.2,595.8" fill="#4682b4"/><polygon points="1879.4,575.3 1868.0,598.1 1890.8,598.1" fill="#4682b4"/><polygon points="1900.9,557.6 1889.5,580.4 1912.3,580.4" fill="#4682b4"/><polygon points="1922.4,486.3 1911.0,509.1 1933.8,509.1" fill="#4682b4"/><polygon points="1943.9,557.0 1932.5,579.8 1955.3,579.8" fill="#4682b4"/><polygon points="1965.5,494.1 1954.1,516.9 1976.9,516.9" fill="#4682b4"/><polygon points="1987.0,567.7 1975.6,590.5 1998.4,590.5" fill="#4682b4"/><polygon points="2008.5,542.6 1997.1,565.4 2019.9,565.4" fill="#4682b4"/><polygon points="2030.0,493.8 2018.6,516.6 2041.4,516.6" fill="#4682b4"/><polygon points="2051.6,539.3 2040.2,562.1 2063.0,562.1" fill="#4682b4"/><polygon points="2073.1,563.4 2061.7,586.2 2084.5,586.2" fill="#4682b4"/><polygon points="2094.6,546.9 2083.2,569.7 2106.0,569.7" fill="#4682b4"/><polygon points="2116.1,541.0 2104.7,563.8 2127.5,563.8" fill="#4682b4"/><polygon points="2137.6,554.3 2126.2,577.1 2149.0,577.1" fill="#4682b4"/><polygon points="2159.2,543.5 2147.8,566.3 2170.6,566.3" fill="#4682b4"/><polygon points="2180.7,568.2 2169.3,591.0 2192.1,591.0" fill="#4682b4"/><polygon points="2202.2,586.8 2190.8,609.6 2213.6,609.6" fill="#4682b4"/><polygon points="2223.7,606.4 2212.3,629.2 2235.1,629.2" fill="#4682b4"/><polygon points="2245.3,643.5 2233.9,666.3 2256.7,666.3" fill="#4682b4"/><polygon points="2266.8,631.3 2255.4,654.1 2278.2,654.1" fill="#4682b4"/><polygon points="2288.3,566.9 2276.9,589.7 2299.7,589.7" fill="#4682b4"/><polygon points="2309.8,562.0 2298.4,584.8 2321.2,584.8" fill="#4682b4"/><polygon points="2331.4,683.0 2320.0,705.8 2342.8,705.8" fill="#4682b4"/><polygon points="2352.9,616.6 2341.5,639.4 2364.3,639.4" fill="#4682b4"/><polygon points="2374.4,682.4 2363.0,705.2 2385.8,705.2" fill="#4682b4"/><polygon points="2395.9,684.2 2384.5,707.0 2407.3,707.0" fill="#4682b4"/><polygon points="2417.4,650.1 2406.0,672.9 2428.8,672.9" fill="#4682b4"/><polygon points="2439.0,662.1 2427.6,684.9 2450.4,684.9" fill="#4682b4"/><polygon points="2460.5,692.1 2449.1,714.9 2471.9,714.9" fill="#4682b4"/><polygon points="2482.0,737.2 2470.6,760.0 2493.4,760.0" fill="#4682b4"/><polygon points="2503.5,770.6 2492.1,793.4 2514.9,793.4" fill="#4682b4"/><polygon points="2525.1,728.8 2513.7,751.6 2536.5,751.6" fill="#4682b4"/><polygon points="2546.6,788.0 2535.2,810.8 2558.0,810.8" fill="#4682b4"/><polygon points="2568.1,846.0 2556.7,868.8 2579.5,868.8" fill="#4682b4"/><polygon points="2589.6,827.6 2578.2,850.4 2601.0,850.4" fill="#4682b4"/><polygon points="2611.2,884.9 2599.8,907.7 2622.6,907.7" fill="#4682b4"/><polygon points="2632.7,845.2 2621.3,868.0 2644.1,868.0" fill="#4682b4"/></g>
<g><polygon points="1556.5,850.6 1545.1,827.8 1567.9,827.8" fill="#bf00bf"/><polygon points="1578.0,847.3 1566.6,824.5 1589.4,824.5" fill="#bf00bf"/><polygon points="1599.6,822.5 1588.2,799.7 1611.0,799.7" fill="#bf00bf"/><polygon points="1621.1,807.0 1609.7,784.2 1632.5,784.2" fill="#bf00bf"/><polygon points="1642.6,704.2 1631.2,681.4 1654.0,681.4" fill="#bf00bf"/><polygon points="1664.1,668.1 1652.7,645.3 1675.5,645.3" fill="#bf00bf"/><polygon points="1685.7,703.0 1674.3,680.2 1697.1,680.2" fill="#bf00bf"/><polygon points="1707.2,665.3 1695.8,642.5 1718.6,642.5" fill="#bf00bf"/><polygon points="1728.7,659.0 1717.3,636.2 1740.1,636.2" fill="#bf00bf"/><polygon points="1750.2,367.3 1738.8,344.5 1761.6,344.5" fill="#bf00bf"/><polygon points="1771.8,489.1 1760.4,466.3 1783.2,466.3" fill="#bf00bf"/><polygon points="1793.3,541.2 1781.9,518.4 1804.7,518.4" fill="#bf00bf"/><polygon points="1814.8,443.3 1803.4,420.5 1826.2,420.5" fill="#bf00bf"/><polygon points="1836.3,458.4 1824.9,435.6 1847.7,435.6" fill="#bf00bf"/><polygon points="1857.8,378.7 1846.4,355.9 1869.2,355.9" fill="#bf00bf"/><polygon points="1879.4,327.7 1868.0,304.9 1890.8,304.9" fill="#bf00bf"/><polygon points="1900.9,358.7 1889.5,335.9 1912.3,335.9" fill="#bf00bf"/><polygon points="1922.4,150.1 1911.0,127.3 1933.8,127.3" fill="#bf00bf"/><polygon points="1943.9,293.3 1932.5,270.5 1955.3,270.5" fill="#bf00bf"/><polygon points="1965.5,259.9 1954.1,237.1 1976.9,237.1" fill="#bf00bf"/><polygon points="1987.0,288.8 1975.6,266.0 1998.4,266.0" fill="#bf00bf"/><polygon points="2008.5,264.7 1997.1,241.9 2019.9,241.9" fill="#bf00bf"/><polygon points="2030.0,258.5 2018.6,235.7 2041.4,235.7" fill="#bf00bf"/><polygon points="2051.6,285.0 2040.2,262.2 2063.0,262.2" fill="#bf00bf"/><polygon points="2073.1,342.4 2061.7,319.6 2084.5,319.6" fill="#bf00bf"/><polygon points="2094.6,306.7 2083.2,283.9 2106.0,283.9" fill="#bf00bf"/><polygon points="2116.1,296.0 2104.7,273.2 2127.5,273.2" fill="#bf00bf"/><polygon points="2137.6,301.4 2126.2,278.6 2149.0,278.6" fill="#bf00bf"/><polygon points="2159.2,354.2 2147.8,331.4 2170.6,331.4" fill="#bf00bf"/><polygon points="2180.7,364.0 2169.3,341.2 2192.1,341.2" fill="#bf00bf"/><polygon points="2202.2,379.8 2190.8,357.0 2213.6,357.0" fill="#bf00bf"/><polygon points="2223.7,385.8 2212.3,363.0 2235.1,363.0" fill="#bf00bf"/><polygon points="2245.3,466.3 2233.9,443.5 2256.7,443.5" fill="#bf00bf"/><polygon points="2266.8,446.8 2255.4,424.0 2278.2,424.0" fill="#bf00bf"/><polygon points="2288.3,454.7 2276.9,431.9 2299.7,431.9" fill="#bf00bf"/><polygon points="2309.8,420.0 2298.4,397.2 2321.2,397.2" fill="#bf00bf"/><polygon points="2331.4,543.6 2320.0,520.8 2342.8,520.8" fill="#bf00bf"/><polygon points="2352.9,485.9 2341.5,463.1 2364.3,463.1" fill="#bf00bf"/><polygon points="2374.4,542.8 2363.0,520.0 2385.8,520.0" fill="#bf00bf"/><polygon points="2395.9,564.4 2384.5,541.6 2407.3,541.6" fill="#bf00bf"/><polygon points="2417.4,493.0 2406.0,470.2 2428.8,470.2" fill="#bf00bf"/><polygon points="2439.0,512.3 2427.6,489.5 2450.4,489.5" fill="#bf00bf"/><polygon points="2460.5,534.3 2449.1,511.5 2471.9,511.5" fill="#bf00bf"/><polygon points="2482.0,632.5 2470.6,609.7 2493.4,609.7" fill="#bf00bf"/><polygon points="2503.5,708.4 2492.1,685.6 2514.9,685.6" fill="#bf00bf"/><polygon points="2525.1,677.5 2513.7,654.7 2536.5,654.7" fill="#bf00bf"/><polygon points="2546.6,714.4 2535.2,691.6 2558.0,691.6" fill="#bf00bf"/><polygon points="2568.1,860.7 2556.7,837.9 2579.5,837.9" fill="#bf00bf"/><polygon points="2589.6,836.7 2578.2,813.9 2601.0,813.9" fill="#bf00bf"/><polygon points="2611.2,910.3 2599.8,887.5 2622.6,887.5" fill="#bf00bf"/><polygon points="2632.7,867.5 2621.3,844.7 2644.1,844.7" fill="#bf00bf"/></g>
<g stroke="#000"><line x1="1535.00" y1="936.6" x2="1535.00" y2="944.9" stroke-width="2.5"/><line x1="1556.52" y1="936.6" x2="1556.52" y2="951.2" stroke-width="3.33"/><line x1="1578.05" y1="936.6" x2="1578.05" y2="944.9" stroke-width="2.5"/><line x1="1599.57" y1="936.6" x2="1599.57" y2="951.2" stroke-width="3.33"/><line x1="1621.09" y1="936.6" x2="1621.09" y2="944.9" stroke-width="2.5"/><line x1="1642.62" y1="936.6" x2="1642.62" y2="951.2" stroke-width="3.33"/><line x1="1664.14" y1="936.6" x2="1664.14" y2="944.9" stroke-width="2.5"/><line x1="1685.66" y1="936.6" x2="1685.66" y2="951.2" stroke-width="3.33"/><line x1="1707.18" y1="936.6" x2="1707.18" y2="944.9" stroke-width="2.5"/><line x1="1728.71" y1="936.6" x2="1728.71" y2="951.2" stroke-width="3.33"/><line x1="1750.23" y1="936.6" x2="1750.23" y2="944.9" stroke-width="2.5"/><line x1="1771.75" y1="936.6" x2="1771.75" y2="951.2" stroke-width="3.33"/><line x1="1793.28" y1="936.6" x2="1793.28" y2="944.9" stroke-width="2.5"/><line x1="1814.80" y1="936.6" x2="1814.80" y2="951.2" stroke-width="3.33"/><line x1="1836.32" y1="936.6" x2="1836.32" y2="944.9" stroke-width="2.5"/><line x1="1857.85" y1="936.6" x2="1857.85" y2="951.2" stroke-width="3.33"/><line x1="1879.37" y1="936.6" x2="1879.37" y2="944.9" stroke-width="2.5"/><line x1="1900.89" y1="936.6" x2="1900.89" y2="951.2" stroke-width="3.33"/><line x1="1922.42" y1="936.6" x2="1922.42" y2="944.9" stroke-width="2.5"/><line x1="1943.94" y1="936.6" x2="1943.94" y2="951.2" stroke-width="3.33"/><line x1="1965.46" y1="936.6" x2="1965.46" y2="944.9" stroke-width="2.5"/><line x1="1986.98" y1="936.6" x2="1986.98" y2="951.2" stroke-width="3.33"/><line x1="2008.51" y1="936.6" x2="2008.51" y2="944.9" stroke-width="2.5"/><line x1="2030.03" y1="936.6" x2="2030.03" y2="951.2" stroke-width="3.33"/><line x1="2051.55" y1="936.6" x2="2051.55" y2="944.9" stroke-width="2.5"/><line x1="2073.08" y1="936.6" x2="2073.08" y2="951.2" stroke-width="3.33"/><line x1="2094.60" y1="936.6" x2="2094.60" y2="944.9" stroke-width="2.5"/><line x1="2116.12" y1="936.6" x2="2116.12" y2="951.2" stroke-width="3.33"/><line x1="2137.65" y1="936.6" x2="2137.65" y2="944.9" stroke-width="2.5"/><line x1="2159.17" y1="936.6" x2="2159.17" y2="951.2" stroke-width="3.33"/><line x1="2180.69" y1="936.6" x2="2180.69" y2="944.9" stroke-width="2.5"/><line x1="2202.22" y1="936.6" x2="2202.22" y2="951.2" stroke-width="3.33"/><line x1="2223.74" y1="936.6" x2="2223.74" y2="944.9" stroke-width="2.5"/><line x1="2245.26" y1="936.6" x2="2245.26" y2="951.2" stroke-width="3.33"/><line x1="2266.78" y1="936.6" x2="2266.78" y2="944.9" stroke-width="2.5"/><line x1="2288.31" y1="936.6" x2="2288.31" y2="951.2" stroke-width="3.33"/><line x1="2309.83" y1="936.6" x2="2309.83" y2="944.9" stroke-width="2.5"/><line x1="2331.35" y1="936.6" x2="2331.35" y2="951.2" stroke-width="3.33"/><line x1="2352.88" y1="936.6" x2="2352.88" y2="944.9" stroke-width="2.5"/><line x1="2374.40" y1="936.6" x2="2374.40" y2="951.2" stroke-width="3.33"/><line x1="2395.92" y1="936.6" x2="2395.92" y2="944.9" stroke-width="2.5"/><line x1="2417.45" y1="936.6" x2="2417.45" y2="951.2" stroke-width="3.33"/><line x1="2438.97" y1="936.6" x2="2438.97" y2="944.9" stroke-width="2.5"/><line x1="2460.49" y1="936.6" x2="2460.49" y2="951.2" stroke-width="3.33"/><line x1="2482.02" y1="936.6" x2="2482.02" y2="944.9" stroke-width="2.5"/><line x1="2503.54" y1="936.6" x2="2503.54" y2="951.2" stroke-width="3.33"/><line x1="2525.06" y1="936.6" x2="2525.06" y2="944.9" stroke-width="2.5"/><line x1="2546.58" y1="936.6" x2="2546.58" y2="951.2" stroke-width="3.33"/><line x1="2568.11" y1="936.6" x2="2568.11" y2="944.9" stroke-width="2.5"/><line x1="2589.63" y1="936.6" x2="2589.63" y2="951.2" stroke-width="3.33"/><line x1="2611.15" y1="936.6" x2="2611.15" y2="944.9" stroke-width="2.5"/><line x1="2632.68" y1="936.6" x2="2632.68" y2="951.2" stroke-width="3.33"/><line x1="2654.20" y1="936.6" x2="2654.20" y2="944.9" stroke-width="2.5"/><line x1="1535.0" y1="900.20" x2="1520.4" y2="900.20" stroke-width="3.33"/><line x1="1535.0" y1="805.94" x2="1520.4" y2="805.94" stroke-width="3.33"/><line x1="1535.0" y1="711.67" x2="1520.4" y2="711.67" stroke-width="3.33"/><line x1="1535.0" y1="617.40" x2="1520.4" y2="617.40" stroke-width="3.33"/><line x1="1535.0" y1="523.14" x2="1520.4" y2="523.14" stroke-width="3.33"/><line x1="1535.0" y1="428.88" x2="1520.4" y2="428.88" stroke-width="3.33"/><line x1="1535.0" y1="334.61" x2="1520.4" y2="334.61" stroke-width="3.33"/><line x1="1535.0" y1="240.35" x2="1520.4" y2="240.35" stroke-width="3.33"/><line x1="1535.0" y1="146.08" x2="1520.4" y2="146.08" stroke-width="3.33"/><line x1="1535.0" y1="919.05" x2="1526.7" y2="919.05" stroke-width="2.5"/><line x1="1535.0" y1="881.35" x2="1526.7" y2="881.35" stroke-width="2.5"/><line x1="1535.0" y1="862.49" x2="1526.7" y2="862.49" stroke-width="2.5"/><line x1="1535.0" y1="843.64" x2="1526.7" y2="843.64" stroke-width="2.5"/><line x1="1535.0" y1="824.79" x2="1526.7" y2="824.79" stroke-width="2.5"/><line x1="1535.0" y1="787.08" x2="1526.7" y2="787.08" stroke-width="2.5"/><line x1="1535.0" y1="768.23" x2="1526.7" y2="768.23" stroke-width="2.5"/><line x1="1535.0" y1="749.38" x2="1526.7" y2="749.38" stroke-width="2.5"/><line x1="1535.0" y1="730.52" x2="1526.7" y2="730.52" stroke-width="2.5"/><line x1="1535.0" y1="692.82" x2="1526.7" y2="692.82" stroke-width="2.5"/><line x1="1535.0" y1="673.96" x2="1526.7" y2="673.96" stroke-width="2.5"/><line x1="1535.0" y1="655.11" x2="1526.7" y2="655.11" stroke-width="2.5"/><line x1="1535.0" y1="636.26" x2="1526.7" y2="636.26" stroke-width="2.5"/><line x1="1535.0" y1="598.55" x2="1526.7" y2="598.55" stroke-width="2.5"/><line x1="1535.0" y1="579.70" x2="1526.7" y2="579.70" stroke-width="2.5"/><line x1="1535.0" y1="560.85" x2="1526.7" y2="560.85" stroke-width="2.5"/><line x1="1535.0" y1="541.99" x2="1526.7" y2="541.99" stroke-width="2.5"/><line x1="1535.0" y1="504.29" x2="1526.7" y2="504.29" stroke-width="2.5"/><line x1="1535.0" y1="485.43" x2="1526.7" y2="485.43" stroke-width="2.5"/><line x1="1535.0" y1="466.58" x2="1526.7" y2="466.58" stroke-width="2.5"/><line x1="1535.0" y1="447.73" x2="1526.7" y2="447.73" stroke-width="2.5"/><line x1="1535.0" y1="410.02" x2="1526.7" y2="410.02" stroke-width="2.5"/><line x1="1535.0" y1="391.17" x2="1526.7" y2="391.17" stroke-width="2.5"/><line x1="1535.0" y1="372.32" x2="1526.7" y2="372.32" stroke-width="2.5"/><line x1="1535.0" y1="353.46" x2="1526.7" y2="353.46" stroke-width="2.5"/><line x1="1535.0" y1="315.76" x2="1526.7" y2="315.76" stroke-width="2.5"/><line x1="1535.0" y1="296.90" x2="1526.7" y2="296.90" stroke-width="2.5"/><line x1="1535.0" y1="278.05" x2="1526.7" y2="278.05" stroke-width="2.5"/><line x1="1535.0" y1="259.20" x2="1526.7" y2="259.20" stroke-width="2.5"/><line x1="1535.0" y1="221.49" x2="1526.7" y2="221.49" stroke-width="2.5"/><line x1="1535.0" y1="202.64" x2="1526.7" y2="202.64" stroke-width="2.5"/><line x1="1535.0" y1="183.79" x2="1526.7" y2="183.79" stroke-width="2.5"/><line x1="1535.0" y1="164.93" x2="1526.7" y2="164.93" stroke-width="2.5"/><line x1="1535.0" y1="127.23" x2="1526.7" y2="127.23" stroke-width="2.5"/><line x1="1535.0" y1="108.37" x2="1526.7" y2="108.37" stroke-width="2.5"/></g>
<rect x="1535.0" y="99.6" width="1119.2" height="837.0" fill="none" stroke="#000" stroke-width="3.33" stroke-linejoin="miter"/>
<text x="1505.8" y="915.0" text-anchor="end">0.00</text>
<text x="1505.8" y="820.7" text-anchor="end">0.05</text>
<text x="1505.8" y="726.5" text-anchor="end">0.10</text>
<text x="1505.8" y="632.2" text-anchor="end">0.15</text>
<text x="1505.8" y="537.9" text-anchor="end">0.20</text>
<text x="1505.8" y="443.7" text-anchor="end">0.25</text>
<text x="1505.8" y="349.4" text-anchor="end">0.30</text>
<text x="1505.8" y="255.1" text-anchor="end">0.35</text>
<text x="1505.8" y="160.9" text-anchor="end">0.40</text>
<text transform="translate(1567.1,966.8) rotate(-90)" text-anchor="end">6:01</text>
<text transform="translate(1610.2,966.8) rotate(-90)" text-anchor="end">6:11</text>
<text transform="translate(1653.2,966.8) rotate(-90)" text-anchor="end">6:21</text>
<text transform="translate(1696.3,966.8) rotate(-90)" text-anchor="end">6:31</text>
<text transform="translate(1739.3,966.8) rotate(-90)" text-anchor="end">6:39</text>
<text transform="translate(1782.4,966.8) rotate(-90)" text-anchor="end">6:47</text>
<text transform="translate(1825.4,966.8) rotate(-90)" text-anchor="end">6:55</text>
<text transform="translate(1868.4,966.8) rotate(-90)" text-anchor="end">7:03</text>
<text transform="translate(1911.5,966.8) rotate(-90)" text-anchor="end">7:11</text>
<text transform="translate(1954.5,966.8) rotate(-90)" text-anchor="end">7:19</text>
<text transform="translate(1997.6,966.8) rotate(-90)" text-anchor="end">7:27</text>
<text transform="translate(2040.6,966.8) rotate(-90)" text-anchor="end">7:36</text>
<text transform="translate(2083.7,966.8) rotate(-90)" text-anchor="end">7:44</text>
<text transform="translate(2126.7,966.8) rotate(-90)" text-anchor="end">7:52</text>
<text transform="translate(2169.8,966.8) rotate(-90)" text-anchor="end">8:00</text>
<text transform="translate(2212.8,966.8) rotate(-90)" text-anchor="end">8:08</text>
<text transform="translate(2255.9,966.8) rotate(-90)" text-anchor="end">8:16</text>
<text transform="translate(2298.9,966.8) rotate(-90)" text-anchor="end">8:24</text>
<text transform="translate(2342.0,966.8) rotate(-90)" text-anchor="end">8:32</text>
<text transform="translate(2385.0,966.8) rotate(-90)" text-anchor="end">8:40</text>
<text transform="translate(2428.0,966.8) rotate(-90)" text-anchor="end">8:48</text>
<text transform="translate(2471.1,966.8) rotate(-90)" text-anchor="end">8:56</text>
<text transform="translate(2514.1,966.8) rotate(-90)" text-anchor="end">9:04</text>
<text transform="translate(2557.2,966.8) rotate(-90)" text-anchor="end">9:12</text>
<text transform="translate(2600.2,966.8) rotate(-90)" text-anchor="end">9:20</text>
<text transform="translate(2643.3,966.8) rotate(-90)" text-anchor="end">9:28</text>
<text x="2094.6" y="75.2" text-anchor="middle">(b) Fairness performance</text>
<text x="2094.6" y="1085.2" text-anchor="middle">Time</text>
<text transform="translate(1407.5,518.1) rotate(-90)" text-anchor="middle">Gini coefficient</text>
<circle cx="2181.0" cy="151.5" r="10.3" fill="#ff8c00"/>
<text x="2256.9" y="166.2">Undiff-RMP-H-DAA</text>
<circle cx="2181.0" cy="210.3" r="10.3" fill="#4682b4"/>
<text x="2256.9" y="225.0">Undiff-FOP-H-DAA</text>
<polygon points="2181.0,256.7 2169.6,279.5 2192.4,279.5" fill="#ff8c00"/>
<text x="2256.9" y="283.8">Diff-RMP-H-DAA</text>
<polygon points="2181.0,315.5 2169.6,338.3 2192.4,338.3" fill="#4682b4"/>
<text x="2256.9" y="342.6">Diff-FOP-H-DAA</text>
<polygon points="2181.0,399.6 2169.6,376.8 2192.4,376.8" fill="#bf00bf"/>
<text x="2256.9" y="401.4">FCFS</text>
</svg>
</body></html>
